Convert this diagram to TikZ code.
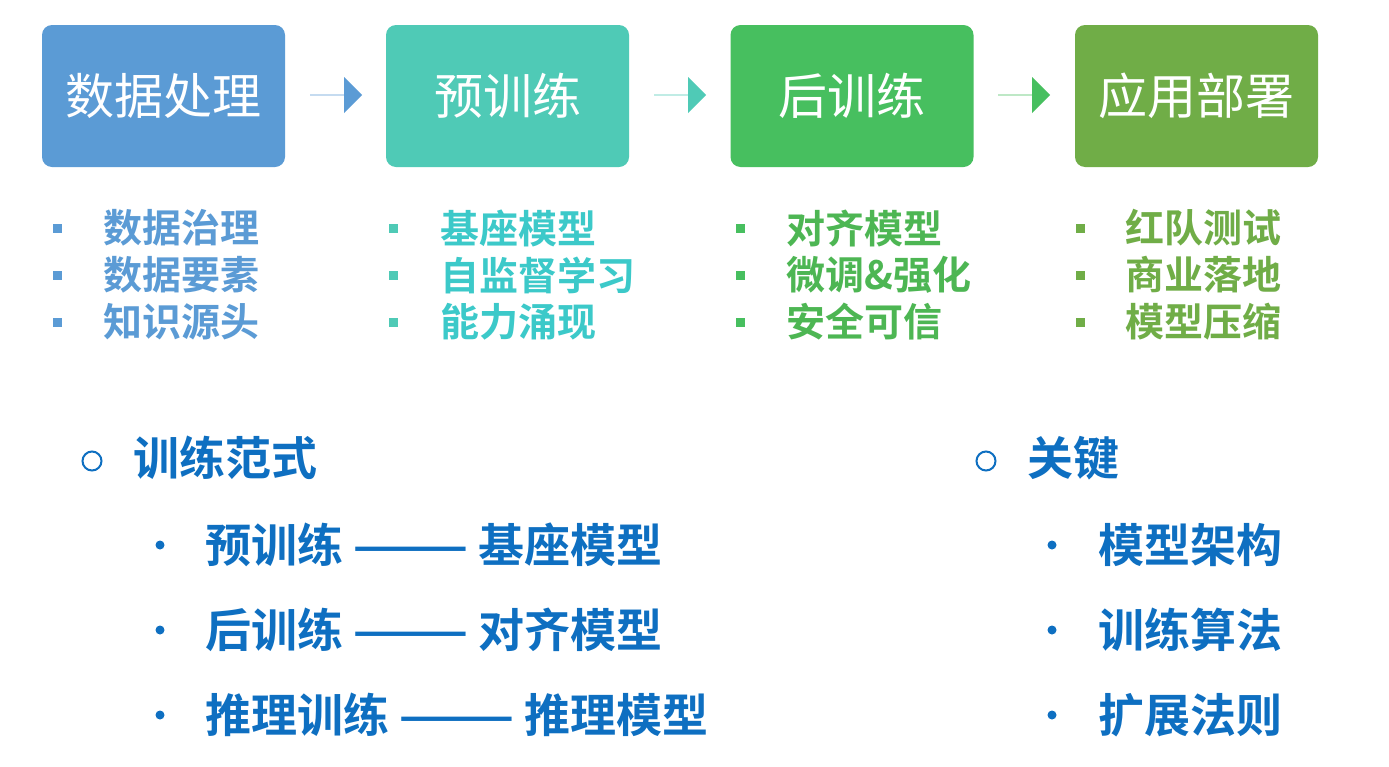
\documentclass[tikz,border=0pt]{standalone}
\usepackage{fontspec}
\newfontfamily\cjk{Noto Sans CJK SC}
\newfontfamily\cjkb{Noto Sans CJK SC Bold}
\usetikzlibrary{shapes.arrows}
\definecolor{cA}{HTML}{5B9BD5}
\definecolor{cB}{HTML}{4FCAB6}
\definecolor{cC}{HTML}{47BF5F}
\definecolor{cD}{HTML}{70AD47}
\definecolor{tB}{HTML}{3CC9C9}
\definecolor{tC}{HTML}{4DB653}
\definecolor{dk}{HTML}{0E6FC1}
\begin{document}
\begin{tikzpicture}[x=1pt,y=-1pt,
  box/.style={rounded corners=10pt,minimum width=243pt,minimum height=142pt,text=white,font=\cjk\fontsize{49}{55}\selectfont,inner sep=0pt},
  arr/.style={single arrow,anchor=west,minimum height=52pt,minimum width=36pt,single arrow head extend=12pt,inner sep=0pt,single arrow tip angle=90},
  item/.style={anchor=west,font=\cjkb\fontsize{39}{44}\selectfont,inner sep=0pt},
  sq/.style={minimum size=9pt,inner sep=0pt},
  big/.style={anchor=west,font=\cjkb\fontsize{46}{52}\selectfont,text=dk,inner sep=0pt}]
\useasboundingbox (0,0) rectangle (1389,766);
\fill[white] (0,0) rectangle (1389,766);
\node[box,fill=cA] (b1) at (163.5,96) {数据处理};
\node[box,fill=cB] (b2) at (507.5,96) {预训练};
\node[box,fill=cC] (b3) at (852,96) {后训练};
\node[box,fill=cD] (b4) at (1196.5,96) {应用部署};
\node[arr,fill=cA] (a1) at (310,95) {};
\node[arr,fill=cB] (a2) at (654,95) {};
\node[arr,fill=cC] (a3) at (998,95) {};
\foreach \c/\t/\sx/\tx/\la/\lb/\lc/\n in {cA/cA/57/103/数据治理/数据要素/知识源头/p,cB/tB/393/440/基座模型/自监督学习/能力涌现/q,cC/tC/740/786/对齐模型/微调\&强化/安全可信/r,cD/cD/1080/1125/红队测试/商业落地/模型压缩/s}{
  \node[sq,fill=\c] (\n1s) at (\sx,228) {};
  \node[sq,fill=\c] (\n2s) at (\sx,275) {};
  \node[sq,fill=\c] (\n3s) at (\sx,322) {};
  \node[item,text=\t] (\n1) at (\tx,228) {\la};
  \node[item,text=\t] (\n2) at (\tx,275) {\lb};
  \node[item,text=\t] (\n3) at (\tx,322) {\lc};
}
\node[circle,draw=dk,line width=2pt,minimum size=19pt,inner sep=0pt] (c1) at (92,461) {};
\node[big] (h1) at (133,458) {训练范式};
\foreach \y/\t/\k in {545/预训练 ——— 基座模型/1,630/后训练 ——— 对齐模型/2,715/推理训练 ——— 推理模型/3}{
  \node[circle,fill=dk,minimum size=9pt,inner sep=0pt] (ld\k) at (160,\y) {};
  \node[big] (lt\k) at (205,\y) {\t};
}
\node[circle,draw=dk,line width=2pt,minimum size=19pt,inner sep=0pt] (c2) at (986,461) {};
\node[big] (h2) at (1027,458) {关键};
\foreach \y/\t/\k in {545/模型架构/1,630/训练算法/2,715/扩展法则/3}{
  \node[circle,fill=dk,minimum size=9pt,inner sep=0pt] (rd\k) at (1052,\y) {};
  \node[big] (rt\k) at (1098,\y) {\t};
}
\end{tikzpicture}
\end{document}
